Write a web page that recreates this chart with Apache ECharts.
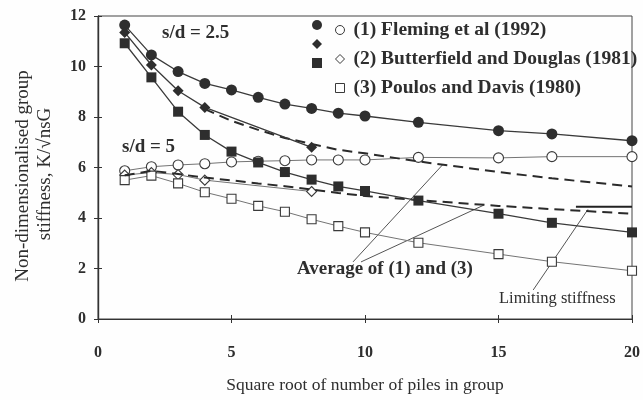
<!DOCTYPE html>
<html>
<head>
<meta charset="utf-8">
<script src="https://cdn.jsdelivr.net/npm/echarts@6/dist/echarts.min.js"></script>
<style>html,body{margin:0;padding:0;background:#fefefe}#c{width:643px;height:400px}</style>
</head>
<body>
<div id="c"></div>
<script>
// ---- data ----
const fx = [1, 2, 3, 4, 5, 6, 7, 8, 9, 10, 12, 15, 17, 20];
const fleming25 = [11.64, 10.46, 9.8, 9.33, 9.07, 8.78, 8.51, 8.34, 8.15, 8.04, 7.79, 7.46, 7.33, 7.06];
const fleming5 = [5.87, 6.03, 6.1, 6.15, 6.22, 6.25, 6.27, 6.3, 6.3, 6.3, 6.4, 6.38, 6.43, 6.43];
const poulos25 = [10.92, 9.57, 8.21, 7.29, 6.63, 6.2, 5.82, 5.52, 5.25, 5.07, 4.69, 4.17, 3.81, 3.43];
const poulos5 = [5.5, 5.68, 5.37, 5.02, 4.76, 4.48, 4.25, 3.95, 3.68, 3.43, 3.02, 2.57, 2.27, 1.91];
const bx = [1, 2, 3, 4, 8];
const butter25 = [11.35, 10.06, 9.04, 8.38, 6.8];
const butter5 = [5.7, 5.8, 5.72, 5.5, 5.05];
const avg25x = [4, 5, 6, 7, 8, 9, 10, 12, 15, 17, 20];
const avg25 = [8.31, 7.85, 7.49, 7.17, 6.93, 6.7, 6.56, 6.24, 5.82, 5.57, 5.25];
const avg5x = [1, 2, 3, 4, 5, 6, 7, 8, 9, 10, 12, 15, 17, 20];
const avg5 = [5.69, 5.87, 5.74, 5.6, 5.49, 5.37, 5.26, 5.13, 4.99, 4.87, 4.71, 4.48, 4.35, 4.17];
const limitX = [17.9, 20];
const limitY = [4.45, 4.45];
// annotation leader lines, in data units
const leaderAvgA = [[9.55, 2.26], [12.9, 6.1]];
const leaderAvgB = [[9.85, 2.26], [14.45, 4.51]];
const leaderLimit = [[16.3, 1.15], [18.35, 4.34]];
const xTicks = {min: 0, max: 20, interval: 5};
const yTicks = {min: 0, max: 12, interval: 2};
const legendNames = ['(1) Fleming et al (1992)', '(2) Butterfield and Douglas (1981)', '(3) Poulos and Davis (1980)'];

const pair = (xs, ys) => xs.map((x, i) => [x, ys[i]]);
const INK = '#2e2e2e';
const SERIF = '"Liberation Serif", "DejaVu Serif", serif';

const filled = (name, xs, ys, symbol, size) => ({
  name, type: 'line', data: pair(xs, ys), symbol, symbolSize: size, z: 5,
  lineStyle: {color: '#3a3a3a', width: 1.3},
  itemStyle: {color: INK, borderColor: INK, borderWidth: 0}
});
const open = (name, xs, ys, symbol, size) => ({
  name, type: 'line', data: pair(xs, ys), symbol, symbolSize: size, z: 3,
  lineStyle: {color: '#747474', width: 1},
  itemStyle: {color: '#fefefe', borderColor: '#3a3a3a', borderWidth: 1.1}
});
const plain = (data, style, z) => ({
  type: 'line', data, symbol: 'none', silent: true, z: z || 2, lineStyle: style
});

const chart = echarts.init(document.getElementById('c'));
chart.setOption({
  backgroundColor: '#fefefe',
  animation: false,
  grid: {left: 98, right: 7, top: 16, bottom: 81, show: true, borderColor: '#444', borderWidth: 1},
  xAxis: [
    {type: 'value', min: xTicks.min, max: xTicks.max, interval: xTicks.interval, position: 'bottom',
     axisLine: {show: true, lineStyle: {color: '#333', width: 1.2}},
     axisTick: {show: true, inside: false, length: 4, lineStyle: {color: '#333'}},
     axisLabel: {margin: 26, color: INK, fontFamily: SERIF, fontSize: 16, fontWeight: 'bold'},
     splitLine: {show: false}},
    {type: 'value', min: xTicks.min, max: xTicks.max, interval: xTicks.interval, position: 'bottom',
     axisLine: {show: false}, axisTick: {show: true, inside: true, length: 4, lineStyle: {color: '#333'}},
     axisLabel: {show: false}, splitLine: {show: false}}
  ],
  yAxis: [
    {type: 'value', min: yTicks.min, max: yTicks.max, interval: yTicks.interval, position: 'left',
     axisLine: {show: true, lineStyle: {color: '#333', width: 1.4}},
     axisTick: {show: true, inside: false, length: 4, lineStyle: {color: '#333'}},
     axisLabel: {margin: 12, color: INK, fontFamily: SERIF, fontSize: 16, fontWeight: 'bold'},
     splitLine: {show: false}},
    {type: 'value', min: yTicks.min, max: yTicks.max, interval: yTicks.interval, position: 'left',
     axisLine: {show: false}, axisTick: {show: true, inside: true, length: 4, lineStyle: {color: '#333'}},
     axisLabel: {show: false}, splitLine: {show: false}}
  ],
  legend: [
    {orient: 'vertical', left: 307, top: 15, itemWidth: 10, itemHeight: 10, itemGap: 9,
     selectedMode: false, formatter: () => '',
     textStyle: {fontSize: 19, fontFamily: SERIF, lineHeight: 20},
     itemStyle: {borderWidth: 0},
     data: [{name: 'F25', icon: 'circle'}, {name: 'B25', icon: 'diamond'}, {name: 'P25', icon: 'rect'}]},
    {orient: 'vertical', left: 330, top: 15, itemWidth: 9, itemHeight: 9, itemGap: 9,
     selectedMode: false,
     formatter: n => ({F5: legendNames[0], B5: legendNames[1], P5: legendNames[2]})[n],
     textStyle: {fontSize: 19.5, fontFamily: SERIF, fontWeight: 'bold', color: INK, lineHeight: 20, padding: [0, 0, 0, 4]},
     itemStyle: {color: '#fefefe', borderColor: '#3a3a3a', borderWidth: 1},
     data: [{name: 'F5', icon: 'circle'}, {name: 'B5', icon: 'diamond'}, {name: 'P5', icon: 'rect'}]}
  ],
  series: [
    plain(leaderAvgA, {color: '#555', width: 1}, 1),
    plain(leaderAvgB, {color: '#555', width: 1}, 1),
    plain(leaderLimit, {color: '#555', width: 1}, 1),
    open('F5', fx, fleming5, 'circle', 10),
    open('B5', bx, butter5, 'diamond', 10),
    open('P5', fx, poulos5, 'rect', 9),
    plain(pair(avg25x, avg25), {color: '#2a2a2a', width: 2, type: [10, 6]}, 4),
    plain(pair(avg5x, avg5), {color: '#2a2a2a', width: 2, type: [10, 6]}, 4),
    filled('F25', fx, fleming25, 'circle', 11),
    filled('B25', bx, butter25, 'diamond', 11),
    filled('P25', fx, poulos25, 'rect', 10),
    plain(pair(limitX, limitY), {color: '#222', width: 2}, 6)
  ],
  graphic: [
    {type: 'text', x: 162, y: 33, style: {text: 's/d = 2.5', font: 'bold 19px ' + SERIF, fill: INK, verticalAlign: 'middle'}},
    {type: 'text', x: 122, y: 147, style: {text: 's/d = 5', font: 'bold 19px ' + SERIF, fill: INK, verticalAlign: 'middle'}},
    {type: 'text', x: 297, y: 269, style: {text: 'Average of (1) and (3)', font: 'bold 19px ' + SERIF, fill: INK, verticalAlign: 'middle'}},
    {type: 'text', x: 499, y: 299, style: {text: 'Limiting stiffness', font: '16.5px ' + SERIF, fill: INK, verticalAlign: 'middle'}},
    {type: 'text', x: 365, y: 385, style: {text: 'Square root of number of piles in group', font: '17.5px ' + SERIF, fill: INK, align: 'center', verticalAlign: 'middle'}},
    {type: 'text', x: 23, y: 176, rotation: Math.PI / 2, style: {text: 'Non-dimensionalised group', font: '19px ' + SERIF, fill: INK, align: 'center', verticalAlign: 'middle'}},
    {type: 'text', x: 45, y: 174, rotation: Math.PI / 2, style: {text: 'stiffness, K/\u221AnsG', font: '19px ' + SERIF, fill: INK, align: 'center', verticalAlign: 'middle'}}
  ]
});
</script>
</body>
</html>
